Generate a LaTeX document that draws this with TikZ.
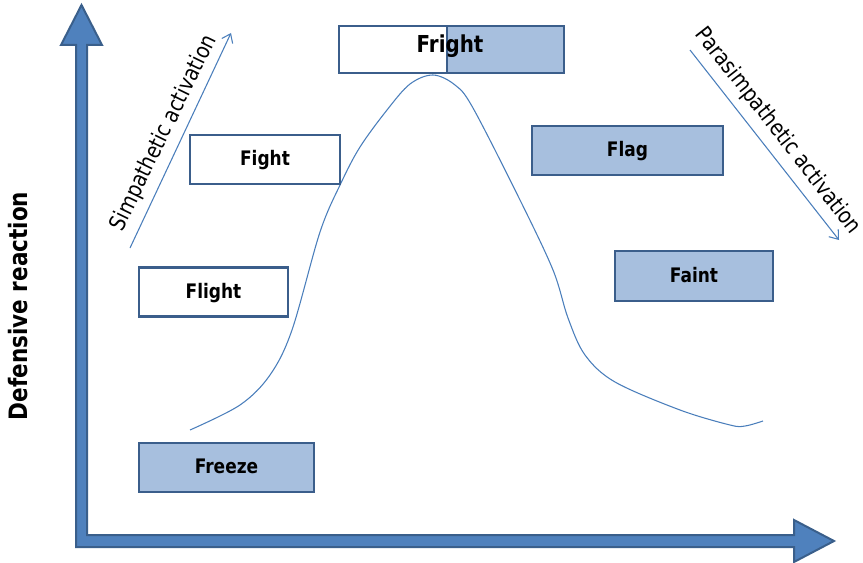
\documentclass[tikz,border=0pt]{standalone}
\usepackage{fontspec}
\setmainfont{DejaVu Sans}[FakeStretch=0.85]
\usetikzlibrary{arrows.meta}
\definecolor{boxfill}{HTML}{A7BFDE}
\definecolor{boxline}{HTML}{3B5E8B}
\definecolor{axisfill}{HTML}{4F81BD}
\definecolor{axisline}{HTML}{3A5F8B}
\definecolor{thinblue}{HTML}{4A7EBB}

\begin{document}
\begin{tikzpicture}[x=0.75pt,y=-0.75pt,
  stage/.style={draw=boxline, line width=2.2pt, minimum height=36.75pt, inner sep=0pt,
    text height=0.9em, text depth=0pt,
    font=\bfseries\fontsize{15}{17}\selectfont, text=black},
  calm/.style={stage, fill=white},
  alarm/.style={stage, fill=boxfill},
  phase/.style={font=\fontsize{16.8}{18}\selectfont},
  trend/.style={draw=thinblue, line width=0.8pt, -{Straight Barb[length=6pt,width=9pt]}},
]
\useasboundingbox (0,0) rectangle (863,563);

% L-shaped axis arrow
\draw[axisline, fill=axisfill, line width=1.5pt, line join=miter]
  (81.5,5) -- (102,45) -- (87,45) -- (87,535) -- (794,535) -- (794,520)
  -- (834,541) -- (794,562) -- (794,547) -- (76,547) -- (76,45) -- (61,45) -- cycle;

\node[font=\bfseries\fontsize{19}{22}\selectfont, rotate=90] (yaxis) at (18,306) {Defensive reaction};

% bell-shaped arousal curve
\draw[thinblue, line width=0.8pt] plot[smooth, tension=0.55] coordinates {
  (190,430) (240,405) (270,375) (292,330) (320,232) (341,183) (360,147)
  (387,110) (410,84) (433,75) (455,85) (473,108) (520,200) (553,270)
  (568,318) (585,355) (615,382) (680,410) (730,425) (745,426) (763,421)};

% activation trends
\coordinate (s0) at (130,248);
\coordinate (s1) at (231,33);
\draw[trend] (s0) -- (s1);
\node[phase, rotate=64] (symp) at (164,133) {Simpathetic activation};

\coordinate (p0) at (690,50);
\coordinate (p1) at (839,240);
\draw[trend] (p0) -- (p1);
\node[phase, rotate=-52] (para) at (778,131) {Parasimpathetic activation};

% response stages
\node[calm, minimum width=112.5pt] (fight) at (265,159.5) {Fight};
\node[calm, minimum width=111.75pt] (flight) at (213.5,292) {Flight};
\node[alarm, minimum width=131.25pt] (freeze) at (226.5,467.5) {Freeze};
\node[alarm, minimum width=143.25pt] (flag) at (627.5,150.5) {Flag};
\node[alarm, minimum width=118.5pt, minimum height=37.5pt] (faint) at (694,276) {Faint};

% half-and-half peak stage
\draw[boxline, line width=2.2pt, fill=white] (339,26) rectangle (447,73);
\draw[boxline, line width=2.2pt, fill=boxfill] (447,26) rectangle (564,73);
\node[font=\bfseries\fontsize{17.5}{20}\selectfont, anchor=base] (fright) at (450,53) {Fright};
\end{tikzpicture}
\end{document}
